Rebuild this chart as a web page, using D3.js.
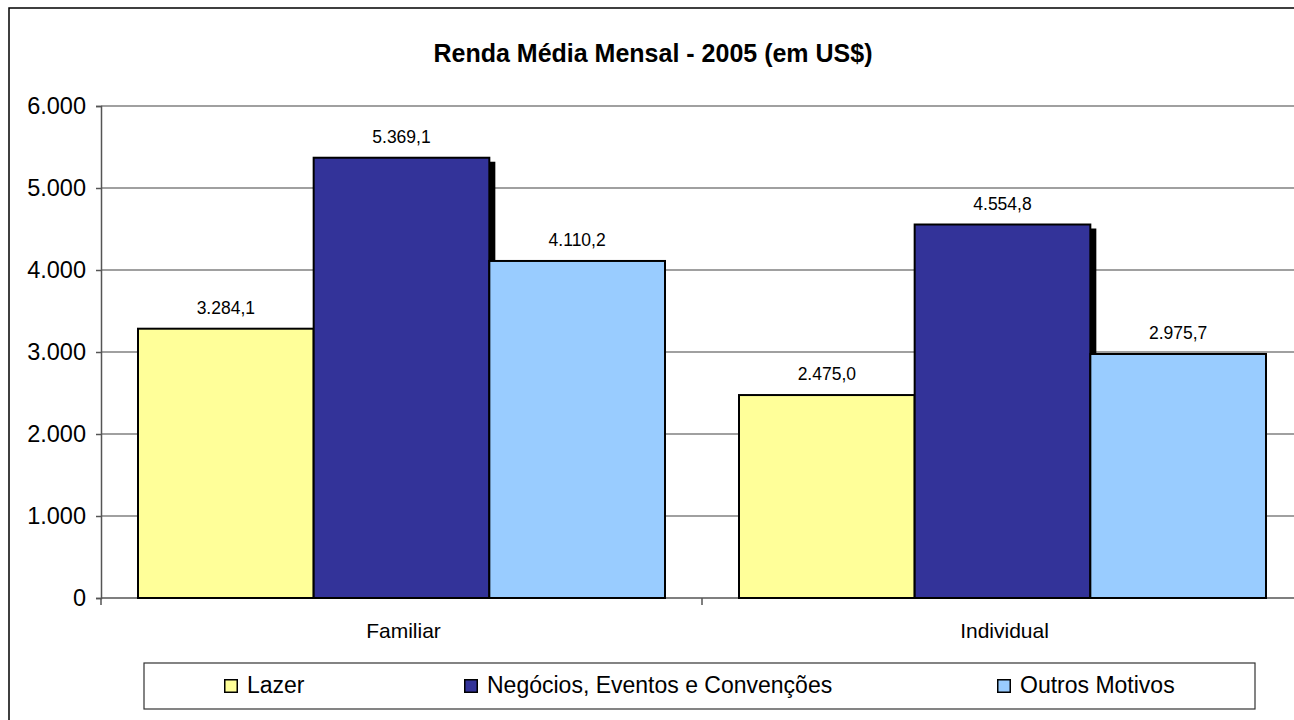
<!DOCTYPE html>
<html>
<head>
<meta charset="utf-8">
<script src="https://cdn.jsdelivr.net/npm/d3@7"></script>
<style>
  html, body { margin: 0; padding: 0; background: #fff; }
  svg { display: block; font-family: "Liberation Sans", Arial, sans-serif; }
</style>
</head>
<body>
<svg id="chart" width="1294" height="720"></svg>
<script>
// Average monthly income, 2005 (US$), by travel type and trip motive
const categories = ["Familiar", "Individual"];
const seriesNames = ["Lazer", "Negócios, Eventos e Convenções", "Outros Motivos"];
const lazer = [3284.1, 2475.0];
const negocios = [5369.1, 4554.8];
const outros = [4110.2, 2975.7];
const yTicks = [0, 1000, 2000, 3000, 4000, 5000, 6000];
const title = "Renda Média Mensal - 2005 (em US$)";

const seriesValues = [lazer, negocios, outros];
const colors = ["#FFFF99", "#333399", "#99CCFF"];

const fmt = d3.formatLocale({ decimal: ",", thousands: ".", grouping: [3], currency: ["US$", ""] });
const fmtTick = fmt.format(",.0f");
const fmtVal = fmt.format(",.1f");

const svg = d3.select("#chart");

const plot = { left: 101, right: 1303, top: 106, bottom: 598 };

const x = d3.scaleBand().domain(categories).range([plot.left, plot.right]).padding(0);
const xs = d3.scaleBand().domain(seriesNames)
  .range([37, x.bandwidth() - 37]).padding(0);
const y = d3.scaleLinear().domain([0, 6000]).range([plot.bottom, plot.top]);

// outer chart frame
svg.append("rect")
  .attr("x", 9).attr("y", 8).attr("width", 1320).attr("height", 740)
  .attr("fill", "none").attr("stroke", "#000").attr("stroke-width", 1.5);

// title
svg.append("text")
  .attr("x", 653).attr("y", 62)
  .attr("text-anchor", "middle")
  .attr("font-size", 25).attr("font-weight", "bold")
  .text(title);

// horizontal gridlines
svg.append("g").selectAll("line")
  .data(yTicks.filter(d => d > 0))
  .join("line")
  .attr("x1", plot.left).attr("x2", plot.right)
  .attr("y1", d => y(d)).attr("y2", d => y(d))
  .attr("stroke", "#808080").attr("stroke-width", 1.5);

// y axis
const yAxis = svg.append("g")
  .attr("transform", `translate(${plot.left},0)`)
  .call(d3.axisLeft(y).tickValues(yTicks).tickFormat(fmtTick).tickSize(5).tickPadding(10));
yAxis.select(".domain").attr("stroke", "#555").attr("stroke-width", 1.5);
yAxis.selectAll(".tick line").attr("stroke", "#555").attr("stroke-width", 1.5);
yAxis.selectAll(".tick text")
  .attr("font-size", 23.5).attr("fill", "#000")
  .attr("font-family", "Liberation Sans, Arial, sans-serif");

// drop shadows behind the business bars
const barData = [];
categories.forEach((c, ci) => {
  seriesNames.forEach((s, si) => {
    barData.push({ cat: c, series: s, si, value: seriesValues[si][ci] });
  });
});

svg.append("g").selectAll("rect")
  .data(barData.filter(d => d.si === 1))
  .join("rect")
  .attr("x", d => x(d.cat) + xs(d.series) + xs.bandwidth())
  .attr("y", d => y(d.value) + 4)
  .attr("width", 6)
  .attr("height", d => y(0) - y(d.value) - 4)
  .attr("fill", "#000");

// x axis line and category separators
svg.append("line")
  .attr("x1", plot.left).attr("x2", plot.right)
  .attr("y1", plot.bottom).attr("y2", plot.bottom)
  .attr("stroke", "#555").attr("stroke-width", 1.5);
svg.append("g").selectAll("line")
  .data([plot.left, x("Individual"), plot.right])
  .join("line")
  .attr("x1", d => d).attr("x2", d => d)
  .attr("y1", plot.bottom).attr("y2", plot.bottom + 7)
  .attr("stroke", "#555").attr("stroke-width", 1.5);

// bars
svg.append("g").selectAll("rect")
  .data(barData)
  .join("rect")
  .attr("x", d => x(d.cat) + xs(d.series))
  .attr("y", d => y(d.value))
  .attr("width", xs.bandwidth())
  .attr("height", d => y(0) - y(d.value))
  .attr("fill", d => colors[d.si])
  .attr("stroke", "#000").attr("stroke-width", 2);

// value labels
svg.append("g").selectAll("text")
  .data(barData)
  .join("text")
  .attr("x", d => x(d.cat) + xs(d.series) + xs.bandwidth() / 2)
  .attr("y", d => y(d.value) - 15)
  .attr("text-anchor", "middle")
  .attr("font-size", 17.5)
  .text(d => fmtVal(d.value));

// category labels
svg.append("g").selectAll("text")
  .data(categories)
  .join("text")
  .attr("x", d => x(d) + x.bandwidth() / 2 + 2)
  .attr("y", 638)
  .attr("text-anchor", "middle")
  .attr("font-size", 21)
  .text(d => d);

// legend
const legend = svg.append("g");
legend.append("rect")
  .attr("x", 144).attr("y", 663).attr("width", 1111).attr("height", 46)
  .attr("fill", "#fff").attr("stroke", "#333").attr("stroke-width", 1.2);
const legendX = [224, 464, 997];
const items = legend.selectAll("g.item")
  .data(seriesNames)
  .join("g")
  .attr("class", "item")
  .attr("transform", (d, i) => `translate(${legendX[i]},679)`);
items.append("rect")
  .attr("x", 0.75).attr("y", 0.75).attr("width", 12.5).attr("height", 12.5)
  .attr("fill", (d, i) => colors[i])
  .attr("stroke", "#000").attr("stroke-width", 1.5);
items.append("text")
  .attr("x", 23).attr("y", 14)
  .attr("font-size", 23)
  .text(d => d);
</script>
</body>
</html>
